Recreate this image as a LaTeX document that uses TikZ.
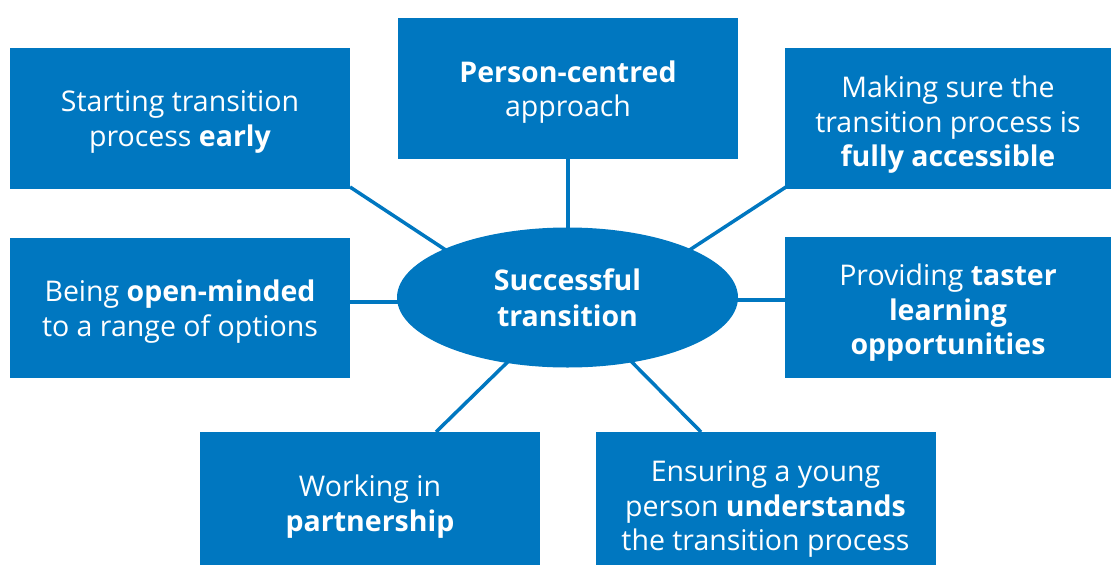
\documentclass[tikz,border=0pt]{standalone}
\usepackage{fontspec}
\setmainfont{Open Sans}
\usetikzlibrary{shapes.geometric}
\definecolor{nhsblue}{HTML}{0077C0}
\tikzset{
  box/.style={fill=nhsblue, inner sep=0pt,
    minimum width=340pt, minimum height=141pt},
  label/.style={text=white, inner sep=0pt, align=center,
    font=\fontsize{28.5}{34.5}\selectfont},
  hub/.style={ellipse, fill=nhsblue, text=white, inner sep=0pt, align=center,
    minimum width=341pt, minimum height=140pt,
    font=\bfseries\fontsize{28.5}{35.5}\selectfont},
  link/.style={draw=nhsblue, line width=3.5pt}
}
\begin{document}
\begin{tikzpicture}[x=1pt,y=-1pt]
\useasboundingbox (0,0) rectangle (1111,565);
\coordinate (ctl) at (470,266);
\coordinate (ctr) at (665,266);
\coordinate (cbl) at (525,345);
\coordinate (cbr) at (615,345);
\coordinate (cml) at (420,302);
\coordinate (cmr) at (715,300);
\coordinate (ctc) at (568,245);
% boxes
\node[box] (tl) at (180,118.5) {};
\node[box] (tc) at (568,88.5) {};
\node[box, minimum width=326pt] (tr) at (948,118.5) {};
\node[box, minimum height=140pt] (ml) at (180,308) {};
\node[box, minimum width=326pt] (mr) at (948,307.5) {};
\node[box, minimum height=133pt] (bl) at (370,498.5) {};
\node[box, minimum height=133pt] (br) at (765.5,498.5) {};
% labels
\node[label] (tlt) at (180,122) {Starting transition\\process \textbf{early}};
\node[label] (tct) at (568,92) {\textbf{Person-centred}\\approach};
\node[label] (trt) at (948,125) {Making sure the\\transition process is\\\textbf{fully accessible}};
\node[label] (mlt) at (180,311.5) {Being \textbf{open-minded}\\to a range of options};
\node[label] (mrt) at (948,313) {Providing \textbf{taster}\\\textbf{learning}\\\textbf{opportunities}};
\node[label] (blt) at (370,506.5) {Working in\\\textbf{partnership}};
\node[label] (brt) at (765.5,509) {Ensuring a young\\person \textbf{understands}\\the transition process};
% connectors
\draw[link] (350,187) coordinate (tlc) -- (ctl);
\draw[link] (tc.south) -- (ctc);
\draw[link] (786,187) coordinate (trc) -- (ctr);
\draw[link] (ml.east |- cml) -- (cml);
\draw[link] (mr.west |- cmr) -- (cmr);
\draw[link] (436,432) coordinate (blc) -- (cbl);
\draw[link] (701,432) coordinate (brc) -- (cbr);
% hub
\node[hub] (hub) at (567.5,297.5) {Successful\\transition};
\end{tikzpicture}
\end{document}
